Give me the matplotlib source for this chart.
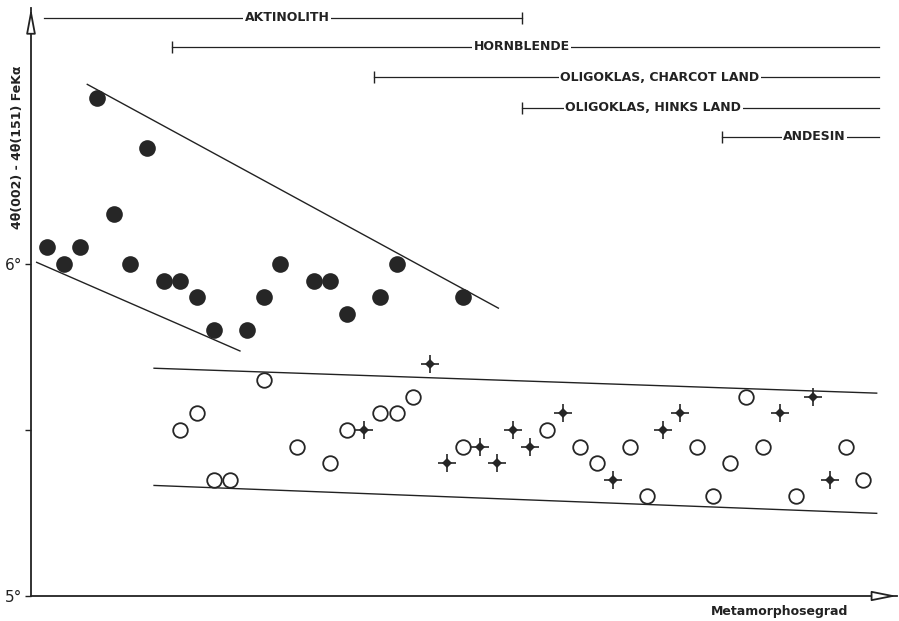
import matplotlib.pyplot as plt
import numpy as np

# metamorphic grade index and peak separation (degrees) for each sample group
filled_x = [1, 2, 3, 4, 5, 6, 7, 8, 9, 10, 11, 13, 14, 15, 17, 18, 19, 21, 22, 26]
filled_y = [6.05, 6.0, 6.05, 6.5, 6.15, 6.0, 6.35, 5.95, 5.95, 5.9, 5.8, 5.8, 5.9, 6.0,
            5.95, 5.95, 5.85, 5.9, 6.0, 5.9]

open_x = [9, 10, 11, 12, 14, 16, 18, 19, 21, 22, 23, 26, 31, 33, 34, 36, 37, 40, 41, 42,
          43, 44, 46, 49, 50]
open_y = [5.5, 5.55, 5.35, 5.35, 5.65, 5.45, 5.4, 5.5, 5.55, 5.55, 5.6, 5.45, 5.5, 5.45,
          5.4, 5.45, 5.3, 5.45, 5.3, 5.4, 5.6, 5.45, 5.3, 5.45, 5.35]

cross_x = [20, 24, 25, 27, 28, 29, 30, 32, 35, 38, 39, 45, 47, 48]
cross_y = [5.5, 5.7, 5.4, 5.45, 5.4, 5.5, 5.45, 5.55, 5.35, 5.5, 5.55, 5.55, 5.6, 5.35]

# envelope lines (x0, y0, x1, y1)
envelopes = [
    (3.41, 6.541, 28.1, 5.867),
    (0.37, 6.005, 12.58, 5.738),
    (7.42, 5.686, 50.82, 5.611),
    (7.42, 5.333, 50.82, 5.249),
]

# mineral ranges along the grade axis
minerals = ["AKTINOLITH", "HORNBLENDE", "OLIGOKLAS, CHARCOT LAND",
            "OLIGOKLAS, HINKS LAND", "ANDESIN"]
range_start = [0.81, 8.5, 20.6, 29.5, 41.5]
range_end = [29.5, 50.96, 50.96, 50.96, 50.96]
label_x = [15.4, 29.5, 37.8, 37.4, 47.1]
range_y = [6.741, 6.654, 6.563, 6.470, 6.383]
tick_at_start = [False, True, True, True, True]
tick_at_end = [True, False, False, False, False]

ink = "#222222"

fig = plt.figure(figsize=(8.99, 6.21), dpi=100)
ax = fig.add_axes([31 / 899, 25 / 621, 866 / 899, 588 / 621])
ax.set_xlim(0.03, 52.04)
ax.set_ylim(5.0, 6.771)

for s in ["top", "right"]:
    ax.spines[s].set_visible(False)
for s in ["left", "bottom"]:
    ax.spines[s].set_linewidth(1.3)
    ax.spines[s].set_color(ink)

ax.set_xticks([])
ax.set_yticks([5.0, 5.5, 6.0])
ax.set_yticklabels(["5°", "", "6°"], fontsize=11, color=ink)
ax.tick_params(axis="y", direction="out", length=4, width=1, pad=2, colors=ink)

# open arrowheads at the ends of both axes
ax.annotate("", xy=(0, 1), xytext=(0, 1 - 22 / 588), xycoords="axes fraction",
            arrowprops=dict(arrowstyle="-|>,head_length=1.5,head_width=0.28",
                            fc="white", ec=ink, lw=1.3, shrinkA=0, shrinkB=0),
            annotation_clip=False)
ax.annotate("", xy=(1, 0), xytext=(1 - 22 / 866, 0), xycoords="axes fraction",
            arrowprops=dict(arrowstyle="-|>,head_length=1.5,head_width=0.3",
                            fc="white", ec=ink, lw=1.3, shrinkA=0, shrinkB=0),
            annotation_clip=False)

for x0, y0, x1, y1 in envelopes:
    ax.plot([x0, x1], [y0, y1], color=ink, lw=1.0)

ax.plot(filled_x, filled_y, "o", markersize=12, color="#262626", markeredgewidth=0)
ax.plot(open_x, open_y, "o", markersize=10.5, markerfacecolor="white",
        markeredgecolor="#262626", markeredgewidth=1.3)
ax.plot(cross_x, cross_y, "+", markersize=12.5, color="#262626", markeredgewidth=1.2)
ax.plot(cross_x, cross_y, "D", markersize=5, color="#262626", markeredgewidth=0)

for name, x0, x1, lx, y, t0, t1 in zip(minerals, range_start, range_end, label_x,
                                      range_y, tick_at_start, tick_at_end):
    ax.plot([x0, x1], [y, y], color=ink, lw=0.9)
    ends = [x for x, t in ((x0, t0), (x1, t1)) if t]
    if ends:
        ax.plot(ends, [y] * len(ends), "|", markersize=8, color=ink,
                markeredgewidth=1.0)
    ax.text(lx, y, name, ha="center", va="center", fontsize=9, fontweight="bold",
            color=ink, bbox=dict(facecolor="white", edgecolor="none", pad=1.0))

fig.text(18 / 899, 1 - 147 / 621, "4θ(002) - 4θ(151) FeKα", rotation=90,
         ha="center", va="center", fontsize=9, fontweight="bold", color=ink)
fig.text(780 / 899, 1 - 611 / 621, "Metamorphosegrad", ha="center", va="center",
         fontsize=9, fontweight="bold", color=ink)

fig.savefig("out.png", dpi=100)
